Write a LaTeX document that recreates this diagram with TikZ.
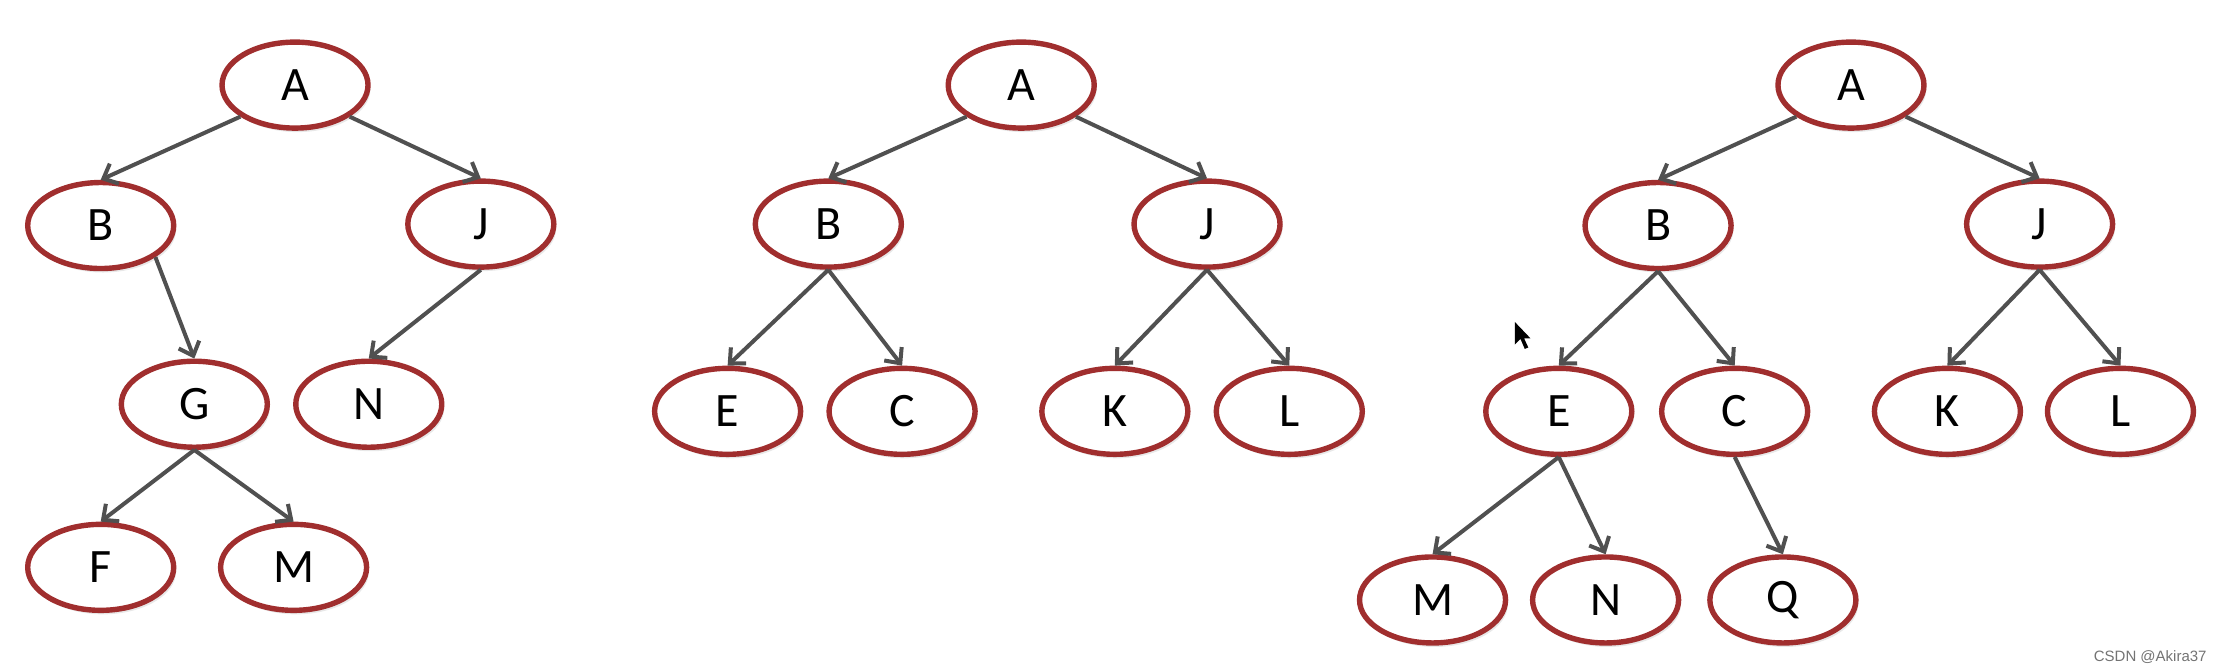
\documentclass[tikz,border=0pt]{standalone}
\usepackage{fontspec}
\setmainfont{Carlito}
\newfontfamily\wmfont{Liberation Sans}
\usetikzlibrary{shapes.geometric,arrows.meta,shadows}
\definecolor{nodered}{RGB}{160,46,46}
\definecolor{edgegray}{RGB}{80,80,80}
\begin{document}
\begin{tikzpicture}[x=0.7092pt,y=-0.7092pt,
  tnode/.style={ellipse,draw=nodered,line width=2.7pt,fill=white,
    minimum width=73pt,minimum height=43pt,inner sep=0pt,
    font=\fontsize{24}{28}\selectfont,
    drop shadow={opacity=0.18,shadow xshift=1.2pt,shadow yshift=-2pt}},
  edge/.style={draw=edgegray,line width=2pt,
    -{Straight Barb[length=6pt,width=11pt]}}]
\useasboundingbox (0,0) rectangle (1568,472.4);
% ---- tree 1
\node[tnode] (a1) at (208,60) {A};
\node[tnode] (b1) at (71,159) {B};
\node[tnode] (j1) at (339,158) {J};
\node[tnode] (g1) at (137,285) {G};
\node[tnode] (n1) at (260,285) {N};
\node[tnode] (f1) at (71,400) {F};
\node[tnode] (m1) at (207,400) {M};
\draw[edge] (a1.210) -- (b1.north);
\draw[edge] (a1.330) -- (j1.north);
\draw[edge] (b1.330) -- (g1.north);
\draw[edge] (j1.south) -- (n1.north);
\draw[edge] (g1.south) -- (f1.north);
\draw[edge] (g1.south) -- (m1.north);
% ---- tree 2
\node[tnode] (a2) at (720,60) {A};
\node[tnode] (b2) at (584,158) {B};
\node[tnode] (j2) at (851,158) {J};
\node[tnode] (e2) at (513,290) {E};
\node[tnode] (c2) at (636,290) {C};
\node[tnode] (k2) at (786,290) {K};
\node[tnode] (l2) at (909,290) {L};
\draw[edge] (a2.210) -- (b2.north);
\draw[edge] (a2.330) -- (j2.north);
\draw[edge] (b2.south) -- (e2.north);
\draw[edge] (b2.south) -- (c2.north);
\draw[edge] (j2.south) -- (k2.north);
\draw[edge] (j2.south) -- (l2.north);
% ---- tree 3
\node[tnode] (a3) at (1305,60) {A};
\node[tnode] (b3) at (1169,159) {B};
\node[tnode] (j3) at (1438,158) {J};
\node[tnode] (e3) at (1099,290) {E};
\node[tnode] (c3) at (1223,290) {C};
\node[tnode] (k3) at (1373,290) {K};
\node[tnode] (l3) at (1495,290) {L};
\node[tnode] (m3) at (1010,423) {M};
\node[tnode] (n3) at (1132,423) {N};
\node[tnode] (q3) at (1257,423) {Q};
\draw[edge] (a3.210) -- (b3.north);
\draw[edge] (a3.330) -- (j3.north);
\draw[edge] (b3.south) -- (e3.north);
\draw[edge] (b3.south) -- (c3.north);
\draw[edge] (j3.south) -- (k3.north);
\draw[edge] (j3.south) -- (l3.north);
\draw[edge] (e3.south) -- (m3.north);
\draw[edge] (e3.south) -- (n3.north);
\draw[edge] (c3.south) -- (q3.north);
% ---- mouse pointer
\fill[black] (1068,227) -- (1068,243) -- (1072,239) -- (1075,246) -- (1077.5,245) -- (1074.5,238.5) -- (1079,238.5) -- cycle;
% ---- watermark
\node[anchor=south east,inner sep=0pt,font=\wmfont\fontsize{7.5}{9}\selectfont,text=black!55] (wm) at (1556,468) {CSDN @Akira37};
\end{tikzpicture}
\end{document}
